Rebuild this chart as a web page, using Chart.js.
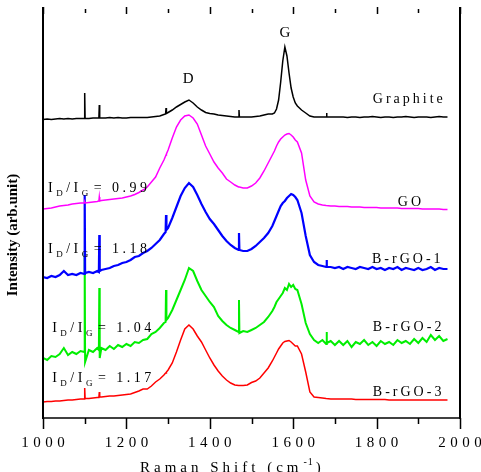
<!DOCTYPE html>
<html>
<head>
<meta charset="utf-8">
<script src="https://cdn.jsdelivr.net/npm/chart.js@4.4.0/dist/chart.umd.min.js"></script>
<style>
html, body { margin: 0; padding: 0; background: #fff; }
canvas { display: block; }
</style>
</head>
<body>
<canvas id="raman" width="481" height="472"></canvas>
<script>
// Raman shift (cm-1), shared by all spectra
const shift = [
1000,1010,1020,1030,1040,1050,1060,1070,1080,1090,
1099,1100,1101,1110,1120,1130,1134,1135,1136,1140,
1150,1160,1170,1180,1190,1200,1210,1220,1230,1240,
1250,1260,1270,1280,1290,1294,1295,1296,1300,1310,
1320,1330,1340,1350,1360,1370,1380,1390,1400,1410,
1420,1430,1440,1450,1460,1469,1470,1471,1480,1490,
1500,1510,1520,1530,1540,1550,1555,1560,1565,1570,
1575,1580,1585,1590,1595,1600,1605,1610,1620,1630,
1640,1650,1660,1670,1679,1680,1681,1690,1700,1710,
1720,1730,1740,1750,1760,1770,1780,1790,1800,1810,
1820,1830,1840,1850,1860,1870,1880,1890,1900,1910,
1920,1930,1940,1950,1960,1970];

// intensities (arb. unit, offset stacked)
const graphite = [
298.5,299,298.5,299,299.5,299,299.5,299,299.5,299.5,
299.5,325,299.5,299.5,300,300,300,313,300,300,
300,300.5,300,300.5,300,300,300.5,300.5,300.5,300.5,
300.5,301,301.5,302,303.5,304,310,304.5,305.5,308,
311,313.5,316,318,315,311,308,305.5,304.5,304,
303,302.5,302,301.5,301,301,308,301,301,301,
301,301.5,302,303,304,304,305,309,318,336,
357,371,362,345,330,321,315,312,308,305,
302,301,301,301,301,305,301,301,301,301,
301,300.5,301,301,300.5,301,301,301.5,301,300.5,
301,301,300.5,301,301,301.5,301,300.5,301,301,
301,300.5,301,301.5,301,301];

const go = [
209,209.5,210,211,212,212.5,213,214,214.5,215,
215,216,215,215.5,216,216.5,217,221,217,217.5,
218,218.5,219,219.5,220,221,222,223.5,225.5,228,
231,236,241,250,258,262,263,264,268,280,
291,298,302,303,300,294,283,272,264,256,
250,245,239,236,233,231,231,231,230,230,
232,235,240,247,255,263,267,272,276,279,
281,283,284,284.5,283,281,278,276,265,238,
222,216,214,213,212.5,212.5,212.5,212,212,211.5,
211.5,211.5,211,211,211,210.5,210.5,210.5,210.5,210,
210,210,210,210,209.5,209.5,209.5,209.5,209.5,209,
209,209,209,209,208.5,208.5];

const brgo1 = [
141,140,142,141,143,147,143,144,143,145,
144,223,145,146,145,147,146,183,147,148,
149,150,152,153,155,156,158,161,162,165,
167,170,174,178,184,186,203,188,190,200,
211,222,230,235,231,223,214,206,199,194,
188,182,177,173,170,168,185,168,167,167,
169,172,176,180,185,192,197,202,207,212,
215,217,220,222,224,223,221,218,205,182,
163,156,153,152,151,158,151,151,150,151,
149,151,150,149,151,150,149,151,149,150,
148,150,149,151,148,150,149,148,150,148,
149,151,148,150,149,149];

const brgo2 = [
60,58,62,61,64,70,63,66,64,67,
66,165,56,68,66,70,68,130,60,70,
68,72,69,73,71,74,72,76,75,78,
79,84,86,90,95,96,128,98,100,108,
118,128,138,150,147,137,128,122,116,111,
102,97,93,90,88,86,118,85,87,86,
88,90,93,96,101,107,111,116,119,122,
125,130,128,134,131,133,129,128,114,95,
84,78,75,78,74,86,75,77,73,77,
73,77,71,76,74,78,73,76,72,77,
74,76,73,78,75,77,74,79,75,80,
76,83,78,82,77,79];

const brgo3 = [
16,16.5,16.5,17,17,17.5,18,18,18.5,19,
19,30,19.5,19.5,20,20.5,20.5,26,21,21,
21.5,22,22,22.5,23,23.5,24,25.5,27,29,
29,32,36,39,43,45,45,46,48,55,
66,78,89,93,89,82,76,68,60,53,
47,42,38,35,33,32.5,32.5,32.5,32.5,33,
35.5,37,40,45,50,57,61,65,69,72,
75,76.5,77,77.5,76,74,72,72,64,46,
26,21,20.5,20,19.5,19.5,19.5,19,19,19,
19,19,19,18.5,18.5,18.5,18.5,18.5,18.5,18.5,
18.5,18,18,18,18,18,18,18,18,18,
18,18,18,18,18,18];

const seriesNames = ['Graphite', 'GO', 'B-rGO-1', 'B-rGO-2', 'B-rGO-3'];
const ratioValues = ['0.99', '1.18', '1.04', '1.17'];
const majorTicks = [1000, 1200, 1400, 1600, 1800, 2000];
const minorTicks = [1100, 1300, 1500, 1700, 1900];

const serif = '"Liberation Serif", "DejaVu Serif", serif';

function pts(arr) {
  return shift.map((x, i) => ({ x: x, y: arr[i] }));
}

// draw text char by char with extra spacing, returns end x
function spaced(ctx, str, x, y, gap) {
  for (const ch of str) {
    ctx.fillText(ch, x, y);
    x += ctx.measureText(ch).width + gap;
  }
  return x;
}
function spacedWidth(ctx, str, gap) {
  let w = 0;
  for (const ch of str) w += ctx.measureText(ch).width + gap;
  return w - gap;
}

const frame = {
  id: 'frame',
  afterDraw(chart) {
    const ctx = chart.ctx;
    const a = chart.chartArea;
    const xs = chart.scales.x, ys = chart.scales.y;
    ctx.save();
    ctx.strokeStyle = '#000';
    ctx.fillStyle = '#000';

    // box
    ctx.lineWidth = 2;
    ctx.beginPath();
    ctx.moveTo(a.left, a.top); ctx.lineTo(a.left, a.bottom + 1);
    ctx.moveTo(a.right, a.top); ctx.lineTo(a.right, a.bottom + 1);
    ctx.stroke();
    ctx.lineWidth = 1.5;
    ctx.beginPath();
    ctx.moveTo(a.left, a.bottom); ctx.lineTo(a.right, a.bottom);
    ctx.stroke();

    // ticks
    ctx.lineWidth = 1.5;
    ctx.beginPath();
    majorTicks.forEach(v => {
      const px = Math.round(xs.getPixelForValue(v)) + 0.5;
      ctx.moveTo(px, a.bottom); ctx.lineTo(px, a.bottom + 11);
      ctx.moveTo(px, a.top); ctx.lineTo(px, a.top + 7);
    });
    minorTicks.forEach(v => {
      const px = Math.round(xs.getPixelForValue(v)) + 0.5;
      ctx.moveTo(px, a.bottom); ctx.lineTo(px, a.bottom + 6);
      ctx.moveTo(px, a.top + 2); ctx.lineTo(px, a.top + 6);
    });
    ctx.stroke();

    // tick labels
    ctx.font = '15px ' + serif;
    ctx.textBaseline = 'alphabetic';
    ctx.textAlign = 'left';
    majorTicks.forEach(v => {
      const s = String(v);
      const w = spacedWidth(ctx, s, 4.5);
      spaced(ctx, s, xs.getPixelForValue(v) - w / 2, a.bottom + 29, 4.5);
    });

    // x title
    let x = spaced(ctx, 'Raman Shift (cm', 140, 472, 4);
    ctx.font = '10px ' + serif;
    x = spaced(ctx, '-1', x + 1, 465, 1);
    ctx.font = '15px ' + serif;
    spaced(ctx, ')', x + 2, 472, 0);

    // y title
    ctx.save();
    ctx.translate(13, 235);
    ctx.rotate(-Math.PI / 2);
    ctx.font = 'bold 15px ' + serif;
    ctx.textAlign = 'center';
    ctx.textBaseline = 'middle';
    ctx.fillText('Intensity (arb.unit)', 0, 0);
    ctx.restore();

    // peak labels
    ctx.font = '15px ' + serif;
    ctx.textAlign = 'center';
    ctx.textBaseline = 'middle';
    ctx.fillText('D', xs.getPixelForValue(1348), ys.getPixelForValue(339));
    ctx.fillText('G', xs.getPixelForValue(1580), ys.getPixelForValue(385));

    // series labels
    ctx.textAlign = 'left';
    ctx.font = '14px ' + serif;
    const lab = [[1791, 319], [1851, 216], [1789, 159], [1791, 91], [1791, 26]];
    seriesNames.forEach((n, i) => {
      spaced(ctx, n, xs.getPixelForValue(lab[i][0]), ys.getPixelForValue(lab[i][1]), 3);
    });

    // I_D/I_G labels
    ctx.textBaseline = 'alphabetic';
    const rat = [[1012, 226], [1012, 165], [1022, 86], [1022, 36]];
    ratioValues.forEach((r, i) => {
      let px = xs.getPixelForValue(rat[i][0]);
      const py = ys.getPixelForValue(rat[i][1]);
      ctx.font = '14px ' + serif;
      px = spaced(ctx, 'I', px, py, 3.5);
      ctx.font = '9px ' + serif;
      px = spaced(ctx, 'D', px, py + 4, 3.5);
      ctx.font = '14px ' + serif;
      px = spaced(ctx, '/I', px, py, 3.5);
      ctx.font = '9px ' + serif;
      px = spaced(ctx, 'G', px, py + 4, 3.5);
      ctx.font = '14px ' + serif;
      spaced(ctx, '= ' + r, px + 2, py, 3.5);
    });
    ctx.restore();
  }
};

const colors = ['#000000', '#ff00ff', '#0000ff', '#00ee00', '#ff0000'];
const widths = [1.5, 1.5, 2.2, 2, 1.5];
const spectra = [graphite, go, brgo1, brgo2, brgo3];

new Chart(document.getElementById('raman'), {
  type: 'line',
  data: {
    datasets: spectra.map((s, i) => ({
      label: seriesNames[i],
      data: pts(s),
      borderColor: colors[i],
      borderWidth: widths[i],
      pointRadius: 0,
      tension: 0,
      fill: false
    }))
  },
  options: {
    responsive: false,
    animation: false,
    devicePixelRatio: 1,
    layout: { padding: { left: 43, right: 21, top: 7, bottom: 54 } },
    scales: {
      x: { type: 'linear', min: 1000, max: 2000, display: false },
      y: { type: 'linear', min: 0, max: 411, display: false }
    },
    plugins: { legend: { display: false }, tooltip: { enabled: false } }
  },
  plugins: [frame]
});
</script>
</body>
</html>
